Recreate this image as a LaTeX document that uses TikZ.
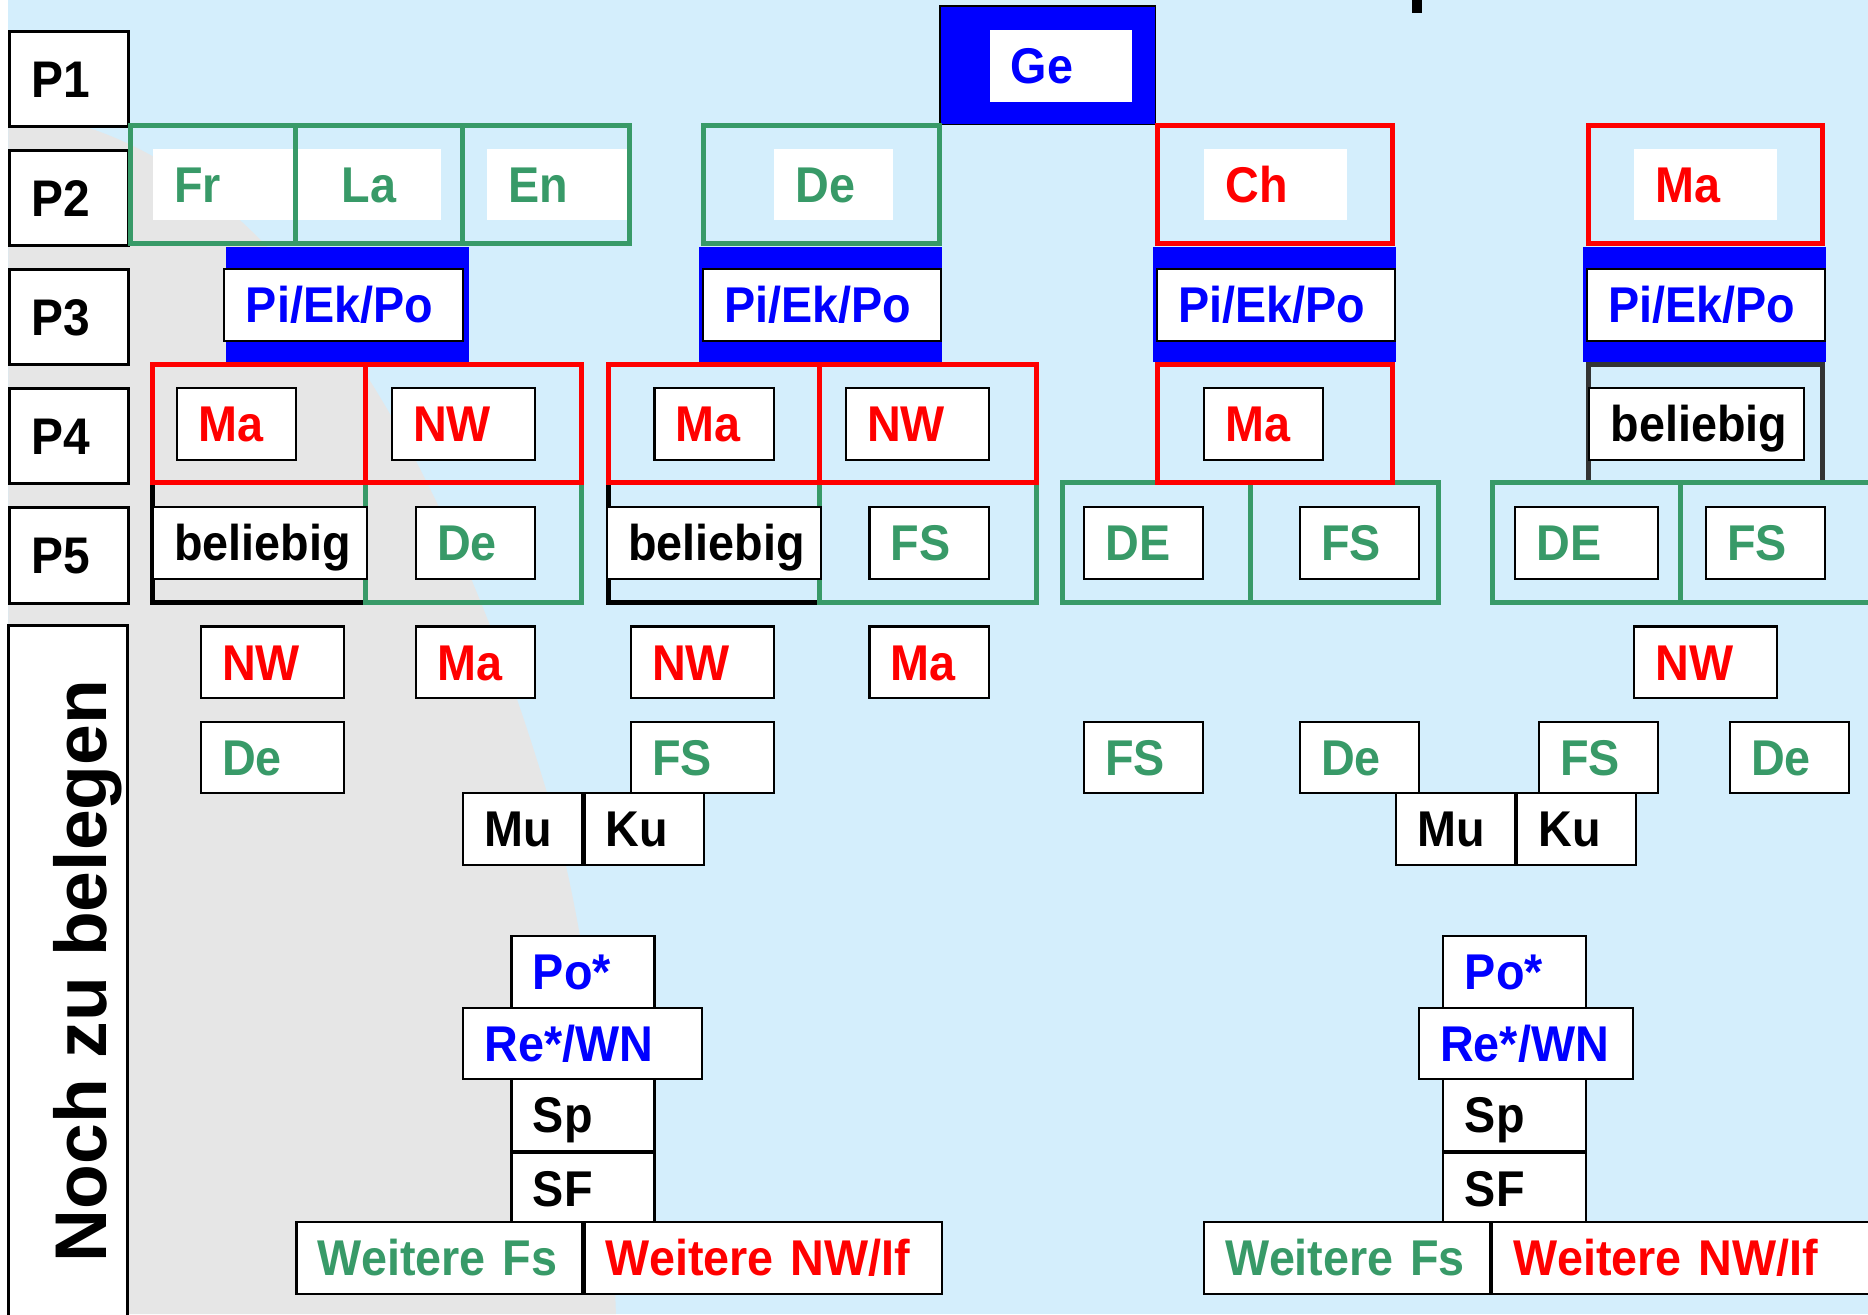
\documentclass[tikz,border=0pt]{standalone}
\usepackage{fontspec}
\setmainfont{Liberation Sans}
\newfontfamily\cellfont{Liberation Sans}[FakeStretch=0.93]
\usetikzlibrary{positioning}

\definecolor{skyblue}{RGB}{212,238,252}
\definecolor{greyzone}{RGB}{230,230,230}
\definecolor{fsgreen}{RGB}{56,154,104}
\definecolor{darkframe}{RGB}{51,51,51}

\tikzset{
  cell/.style={draw=black, line width=0.5pt, fill=white, anchor=north west,
    inner xsep=1.8mm, inner ysep=0pt, minimum height=6mm, align=left,
    text height=3mm, text depth=0pt, font=\cellfont\fontsize{12}{14}\selectfont\bfseries},
  tag/.style={cell, draw=none},
  pcell/.style={cell, line width=0.7pt, minimum height=8mm, text width=6.4mm,
    text height=3.1mm, font=\cellfont\fontsize{12.3}{14}\selectfont\bfseries},
  gframe/.style={draw=fsgreen, line width=1.2pt},
  rframe/.style={draw=red, line width=1.2pt}
}

\begin{document}
\begin{tikzpicture}[x=1mm, y=-1mm]
\useasboundingbox (0,0) rectangle (156.8,110.3);
\clip (0,0) rectangle (156.8,110.3);

% background
\fill[skyblue] (0.7,0) rectangle (156.8,110.3);
\fill[greyzone] (0.7,10.5) -- (6.7,10.5) .. controls (25,16) and (38,40) .. (45.9,66.5)
  .. controls (49.5,78.5) and (51.2,95) .. (51.7,110.3) -- (0.7,110.3) -- cycle;
\fill[black] (118.5,-0.2) rectangle (119.4,1.1);

% period column
\foreach \i in {1,...,5}
\node[pcell] (p\i) at (0.7,{2.5+10*(\i-1)}) {P\i};
\draw[line width=0.7pt, fill=white] (0.7,52.5) rectangle (10.7,112);
\node[rotate=90, inner sep=0pt, text height=4.4mm, text depth=0pt,
  font=\fontsize{17.5}{20}\selectfont\bfseries] (noch) at (6.75,81.5) {Noch zu belegen};

% P1 and P2
\draw[fill=blue, line width=0.4pt] (78.9,0.5) rectangle (97,10.45);
\node[tag, text width=8.4mm, text=blue] (ge) at (82.97,2.46) {Ge};
\node[tag, text width=8.4mm, text=fsgreen] (fr) at (12.75,12.4) {Fr};
\node[tag, text width=8.4mm, text=fsgreen, align=center] (la) at (24.9,12.4) {La};
\node[tag, text width=8.4mm, text=fsgreen] (en) at (40.8,12.4) {En};
\node[tag, text width=6.4mm, text=fsgreen] (de) at (64.9,12.4) {De};
\node[tag, text width=8.4mm, text=red] (ch) at (101,12.4) {Ch};
\node[tag, text width=8.4mm, text=red] (ma) at (137.1,12.4) {Ma};
\draw[gframe] (10.95,10.5) rectangle (52.8,20.45) (24.8,10.5) -- (24.8,20.45)
  (38.85,10.5) -- (38.85,20.45);
\draw[gframe] (59.05,10.5) rectangle (78.87,20.45);
\draw[rframe] (97.2,10.5) rectangle (116.9,20.4);
\draw[rframe] (133.3,10.5) rectangle (152.97,20.4);

% P3
\foreach \x/\bx in {18.75/19, 58.9/58.65, 97/96.8, 133.1/132.9}
\fill[blue] (\bx,20.7) rectangle ++(20.4,9.7);
\foreach \x [count=\i] in {18.75, 58.9, 97, 133.1}
\node[cell, text width=16.4mm, text=blue] (pi\i) at (\x,22.5) {Pi/Ek/Po};

% P4 and P5 frames
\draw[line width=1.2pt] (12.8,40.5) rectangle (30.7,50.6);
\draw[line width=1.2pt] (51.05,40.5) rectangle (68.8,50.6);
\draw[line width=1.2pt, darkframe] (133.3,30.6) rectangle (152.97,40.5);
\draw[gframe] (30.7,40.5) rectangle (48.8,50.6);
\draw[gframe] (68.8,40.5) rectangle (86.97,50.6);
\draw[gframe] (89.2,40.5) rectangle (120.77,50.6) (104.97,40.5) -- (104.97,50.6);
\draw[gframe] (125.3,40.5) rectangle (157.5,50.6) (141.07,40.5) -- (141.07,50.6);
\draw[rframe] (12.8,30.6) rectangle (48.8,40.5) (30.7,30.6) -- (30.7,40.5);
\draw[rframe] (51.05,30.6) rectangle (86.97,40.5) (68.8,30.6) -- (68.8,40.5);
\draw[rframe] (97.2,30.6) rectangle (116.9,40.5);

\foreach \x/\w/\c/\t [count=\i] in {14.75/6.4/red/Ma, 32.8/8.4/red/NW,
  54.85/6.4/red/Ma, 70.9/8.4/red/NW, 101/6.4/red/Ma, 133.3/14.4/black/beliebig}
\node[cell, text width=\w mm, text=\c] (pfour\i) at (\x,32.5) {\t};
\foreach \x/\w/\c/\t [count=\i] in {12.75/14.4/black/beliebig, 34.8/6.4/fsgreen/De,
  50.85/14.4/black/beliebig, 72.9/6.4/fsgreen/FS, 90.9/6.4/fsgreen/DE,
  109/6.4/fsgreen/FS, 127.1/8.4/fsgreen/DE, 143.1/6.4/fsgreen/FS}
\node[cell, text width=\w mm, text=\c] (pfive\i) at (\x,42.5) {\t};

% still open
\foreach \x/\w/\t [count=\i] in {16.75/8.4/NW, 34.8/6.4/Ma, 52.85/8.4/NW,
  72.9/6.4/Ma, 137.07/8.4/NW}
\node[cell, text width=\w mm, text=red] (open\i) at (\x,52.5) {\t};
\foreach \x/\w/\t [count=\i] in {16.75/8.4/De, 52.85/8.4/FS, 90.9/6.4/FS,
  109/6.4/De, 129.07/6.4/FS, 145.1/6.4/De}
\node[cell, text width=\w mm, text=fsgreen] (lang\i) at (\x,60.5) {\t};

\foreach \s/\mx/\px/\rx/\rw/\wx/\ww in {a/38.8/42.85/38.8/16.4/24.8/26.4,
  b/117.07/121.07/119/14.4/101/31.4} {
  \node[cell, text width=6.4mm] (mu\s) at (\mx,66.5) {Mu};
  \node[cell, text width=6.4mm, right=0pt of mu\s] (ku\s) {Ku};
  \node[cell, text width=8.4mm, text=blue] (po\s) at (\px,78.5) {Po*};
  \node[cell, text width=\rw mm, text=blue] (re\s) at (\rx,84.5) {Re*/WN};
  \node[cell, text width=8.4mm] (sp\s) at (\px,90.5) {Sp};
  \node[cell, text width=8.4mm, below=0pt of sp\s] (sf\s) {SF};
  \node[cell, text width=20.4mm, text=fsgreen] (wfs\s) at (\wx,102.5) {Weitere Fs};
  \node[cell, text width=\ww mm, text=red, right=0pt of wfs\s] (wnw\s) {Weitere NW/If};
}
\end{tikzpicture}
\end{document}
